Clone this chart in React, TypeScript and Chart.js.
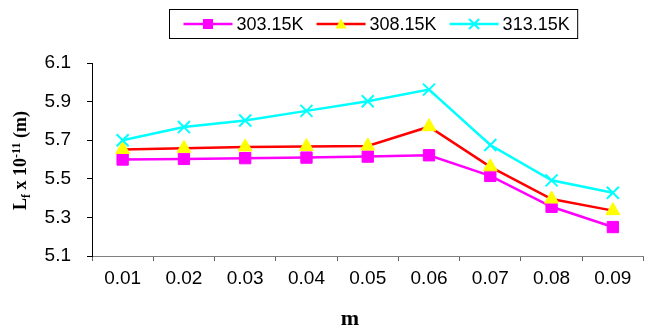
import React, { useEffect, useRef } from 'react';
import { Chart, registerables } from 'chart.js';

Chart.register(...registerables);

const categories = ['0.01', '0.02', '0.03', '0.04', '0.05', '0.06', '0.07', '0.08', '0.09'];
const series303 = [5.6, 5.603, 5.607, 5.61, 5.615, 5.622, 5.515, 5.355, 5.25];
const series308 = [5.652, 5.658, 5.665, 5.667, 5.67, 5.77, 5.562, 5.395, 5.335];
const series313 = [5.7, 5.768, 5.802, 5.852, 5.902, 5.962, 5.675, 5.492, 5.428];
const seriesLabels = ['303.15K', '308.15K', '313.15K'];
const yTickValues = [5.1, 5.3, 5.5, 5.7, 5.9, 6.1];
const xTitle = 'm';

const SANS = '"Liberation Sans", Arial, sans-serif';
const SERIF = '"Liberation Serif", "Times New Roman", serif';

function drawMarker(ctx: CanvasRenderingContext2D, style: string, x: number, y: number, fill: string, stroke: string) {
  ctx.save();
  if (style === 'rect') {
    ctx.fillStyle = fill;
    ctx.fillRect(x - 5, y - 5, 10, 10);
  } else if (style === 'triangle') {
    ctx.fillStyle = fill;
    ctx.beginPath();
    ctx.moveTo(x, y - 5.5);
    ctx.lineTo(x + 5.5, y + 4.5);
    ctx.lineTo(x - 5.5, y + 4.5);
    ctx.closePath();
    ctx.fill();
  } else {
    ctx.strokeStyle = stroke;
    ctx.lineWidth = 2;
    ctx.beginPath();
    ctx.moveTo(x - 5, y - 5);
    ctx.lineTo(x + 5, y + 5);
    ctx.moveTo(x + 5, y - 5);
    ctx.lineTo(x - 5, y + 5);
    ctx.stroke();
  }
  ctx.restore();
}

const decorPlugin = {
  id: 'decor',
  afterDraw(chart: any) {
    const ctx: CanvasRenderingContext2D = chart.ctx;
    const area = chart.chartArea;
    ctx.save();
    // legend
    ctx.font = `18px ${SANS}`;
    const lineLen = 49, gapText = 4, gapItem = 13, padL = 14, padR = 8;
    const dsets = chart.data.datasets;
    const widths = dsets.map((d: any) => ctx.measureText(d.label).width);
    let total = padL + padR;
    widths.forEach((w: number, i: number) => {
      total += lineLen + gapText + w + (i < widths.length - 1 ? gapItem : 0);
    });
    const left = Math.round((area.left + area.right) / 2 - total / 2 + 5) + 0.5;
    const top = 9.5;
    const h = 29;
    ctx.fillStyle = '#fff';
    ctx.fillRect(left, top, total, h);
    ctx.strokeStyle = '#000';
    ctx.lineWidth = 1;
    ctx.strokeRect(left, top, total, h);
    const cy = top + h / 2;
    let x = left + padL;
    dsets.forEach((d: any, i: number) => {
      ctx.strokeStyle = d.borderColor;
      ctx.lineWidth = 2.5;
      ctx.beginPath();
      ctx.moveTo(x, cy);
      ctx.lineTo(x + lineLen, cy);
      ctx.stroke();
      drawMarker(ctx, d.pointStyle, x + lineLen / 2, cy, d.pointBackgroundColor, d.pointBorderColor);
      x += lineLen + gapText;
      ctx.fillStyle = '#000';
      ctx.textAlign = 'left';
      ctx.textBaseline = 'middle';
      ctx.fillText(d.label, x, cy + 1);
      x += widths[i] + gapItem;
    });

    // y-axis title with subscript/superscript
    const parts = [
      { t: 'L', s: 18, dy: 0 },
      { t: 'f', s: 12, dy: 4 },
      { t: ' x 10', s: 18, dy: 0 },
      { t: '-11', s: 12, dy: -6 },
      { t: ' (m)', s: 18, dy: 0 },
    ];
    let tw = 0;
    const pw = parts.map((p) => {
      ctx.font = `bold ${p.s}px ${SERIF}`;
      const w = ctx.measureText(p.t).width;
      tw += w;
      return w;
    });
    ctx.translate(26, (area.top + area.bottom) / 2 + 1);
    ctx.rotate(-Math.PI / 2);
    ctx.fillStyle = '#000';
    ctx.textAlign = 'left';
    ctx.textBaseline = 'alphabetic';
    let px = -tw / 2;
    parts.forEach((p, i) => {
      ctx.font = `bold ${p.s}px ${SERIF}`;
      ctx.fillText(p.t, px, p.dy);
      px += pw[i];
    });
    ctx.setTransform(1, 0, 0, 1, 0, 0);

    // x-axis title
    ctx.font = `bold 22px ${SERIF}`;
    ctx.textAlign = 'center';
    ctx.textBaseline = 'middle';
    ctx.fillStyle = '#000';
    ctx.fillText(xTitle, chart.width * 0.535, 319);
    ctx.restore();
  },
};

export default function App() {
  const ref = useRef<HTMLCanvasElement>(null);
  useEffect(() => {
    document.body.style.margin = '0';
    const canvas = ref.current!;
    const chart = new Chart(canvas, {
      type: 'line',
      data: {
        labels: categories,
        datasets: [
          {
            label: seriesLabels[0],
            data: series303,
            borderColor: '#ff00ff',
            backgroundColor: '#ff00ff',
            pointStyle: 'rect',
            pointRadius: 8,
            pointBackgroundColor: '#ff00ff',
            pointBorderColor: '#ff00ff',
            pointBorderWidth: 1,
            borderWidth: 2.5,
            tension: 0,
            order: 3,
          },
          {
            label: seriesLabels[1],
            data: series308,
            borderColor: '#ff0000',
            backgroundColor: '#ffff00',
            pointStyle: 'triangle',
            pointRadius: 8,
            pointBackgroundColor: '#ffff00',
            pointBorderColor: '#ffff00',
            pointBorderWidth: 1,
            borderWidth: 2.5,
            tension: 0,
            order: 2,
          },
          {
            label: seriesLabels[2],
            data: series313,
            borderColor: '#00ffff',
            backgroundColor: '#00ffff',
            pointStyle: 'crossRot',
            pointRadius: 8.5,
            pointBackgroundColor: '#00ffff',
            pointBorderColor: '#00ffff',
            pointBorderWidth: 2,
            borderWidth: 2.5,
            tension: 0,
            order: 1,
          },
        ],
      },
      options: {
        responsive: false,
        animation: false,
        devicePixelRatio: 1,
        layout: { padding: { top: 63, right: 1, left: 0, bottom: 0 } },
        plugins: {
          legend: { display: false },
          title: { display: false },
          tooltip: { enabled: false },
        },
        scales: {
          x: {
            type: 'category',
            offset: true,
            grid: {
              offset: true,
              drawOnChartArea: false,
              drawTicks: true,
              tickLength: 5,
              color: '#666',
            },
            border: { display: true, color: '#808080', width: 1 },
            ticks: {
              color: '#000',
              font: { family: SANS, size: 19 },
              padding: 6,
              maxRotation: 0,
            },
            afterFit: (s: any) => {
              s.height = 75;
            },
          },
          y: {
            type: 'linear',
            min: 5.1,
            max: 6.1,
            grid: {
              drawOnChartArea: false,
              drawTicks: true,
              tickLength: 5,
              color: '#000',
            },
            border: { display: true, color: '#000', width: 1 },
            ticks: {
              color: '#000',
              font: { family: SANS, size: 19 },
              padding: 16,
              callback: (v: any) => Number(v).toFixed(1),
            },
            afterBuildTicks: (s: any) => {
              s.ticks = yTickValues.map((v) => ({ value: v }));
            },
            afterFit: (s: any) => {
              s.width = 92;
            },
          },
        },
      },
      plugins: [decorPlugin],
    });
    return () => chart.destroy();
  }, []);
  return (
    <div style={{ width: 654, height: 331 }}>
      <canvas ref={ref} width={654} height={331} style={{ display: 'block' }} />
    </div>
  );
}
